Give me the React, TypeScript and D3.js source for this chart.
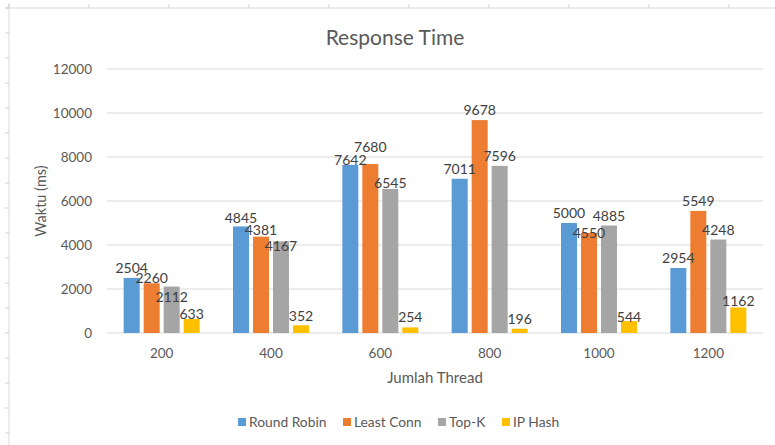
import React from "react";
import * as d3 from "d3";

const categories = ["200", "400", "600", "800", "1000", "1200"];
const seriesNames = ["Round Robin", "Least Conn", "Top-K", "IP Hash"];
const roundRobin = [2504, 4845, 7642, 7011, 5000, 2954];
const leastConn = [2260, 4381, 7680, 9678, 4550, 5549];
const topK = [2112, 4167, 6545, 7596, 4885, 4248];
const ipHash = [633, 352, 254, 196, 544, 1162];
const yTicks = [0, 2000, 4000, 6000, 8000, 10000, 12000];
const colors = ["#5B9BD5", "#ED7D31", "#A5A5A5", "#FFC000"];

// vertical nudges of data labels (px, relative to default outside-end position)
const labelNudge: Record<string, number> = {
  "1-0": 5,
  "2-0": 20,
  "0-1": 2,
  "1-1": 3,
  "2-1": 15,
  "3-1": 1,
  "0-2": 5,
  "1-2": -7,
  "2-2": 4,
  "1-4": 10,
  "3-4": 6,
  "3-0": 5,
  "3-5": 4,
};

const W = 775;
const H = 445;
const FONT = "Lato, 'Open Sans', sans-serif";

export default function App() {
  const series = [roundRobin, leastConn, topK, ipHash];
  const left = 107;
  const right = 763;
  const x0 = d3.scaleBand<string>().domain(categories).range([left, right]).padding(0);
  const groupW = x0.bandwidth() * 0.695;
  const x1 = d3
    .scaleBand<string>()
    .domain(seriesNames)
    .range([0, groupW])
    .paddingInner(0.2)
    .paddingOuter(0);
  const y = d3.scaleLinear().domain([0, 12000]).range([333, 69]);

  const topTicks = d3.range(9, W, 80);
  const leftTicks = d3.range(8, H, 25);

  const legendX = [238, 343, 438, 502];

  return (
    <svg
      width={W}
      height={H}
      style={{ position: "absolute", left: 0, top: 0, background: "#fff" }}
      fontFamily={FONT}
    >
      {/* spreadsheet frame */}
      <line x1={5} x2={W} y1={8} y2={8} stroke="#d9d9d9" strokeWidth={1} />
      <line x1={9} x2={9} y1={3} y2={H} stroke="#d9d9d9" strokeWidth={1} />
      {topTicks.map((t) => (
        <line key={"tt" + t} x1={t} x2={t} y1={4} y2={8} stroke="#d0d0d0" />
      ))}
      {leftTicks.map((t) => (
        <line key={"lt" + t} x1={5} x2={9} y1={t} y2={t} stroke="#d0d0d0" />
      ))}

      <text x={395} y={45} textAnchor="middle" fontSize={21} fill="#595959">
        Response Time
      </text>

      {yTicks.map((t) => (
        <g key={"g" + t}>
          <line x1={left} x2={right} y1={y(t)} y2={y(t)} stroke="#d9d9d9" strokeWidth={1} />
          <text x={92} y={y(t) + 4.5} textAnchor="end" fontSize={13.5} fill="#595959">
            {t}
          </text>
        </g>
      ))}

      {categories.map((c, i) => {
        const cx = (x0(c) as number) + x0.bandwidth() / 2;
        const gx = cx - groupW / 2;
        return (
          <g key={c}>
            {series.map((s, j) => {
              const bx = gx + (x1(seriesNames[j]) as number);
              const bw = x1.bandwidth();
              return (
                <rect
                  key={"r" + j}
                  x={bx}
                  y={y(s[i])}
                  width={bw}
                  height={y(0) - y(s[i])}
                  fill={colors[j]}
                />
              );
            })}
            <text x={cx} y={358} textAnchor="middle" fontSize={13.5} fill="#595959">
              {c}
            </text>
          </g>
        );
      })}

      {categories.map((c, i) => {
        const cx = (x0(c) as number) + x0.bandwidth() / 2;
        const gx = cx - groupW / 2;
        return (
          <g key={"l" + c}>
            {series.map((s, j) => {
              const bx = gx + (x1(seriesNames[j]) as number);
              const bw = x1.bandwidth();
              const dy = labelNudge[`${j}-${i}`] || 0;
              return (
                <text
                  key={"t" + j}
                  x={bx + bw / 2}
                  y={y(s[i]) - 5 + dy}
                  textAnchor="middle"
                  fontSize={14}
                  fill="#404040"
                >
                  {s[i]}
                </text>
              );
            })}
          </g>
        );
      })}

      <text x={(left + right) / 2} y={383} textAnchor="middle" fontSize={15} fill="#595959">
        Jumlah Thread
      </text>
      <text
        transform={`translate(46,201) rotate(-90)`}
        textAnchor="middle"
        fontSize={14.5}
        fill="#595959"
      >
        Waktu (ms)
      </text>

      {seriesNames.map((n, j) => (
        <g key={n}>
          <rect x={legendX[j]} y={418} width={8} height={8} fill={colors[j]} />
          <text x={legendX[j] + 11} y={427} fontSize={13.8} fill="#595959">
            {n}
          </text>
        </g>
      ))}
    </svg>
  );
}
